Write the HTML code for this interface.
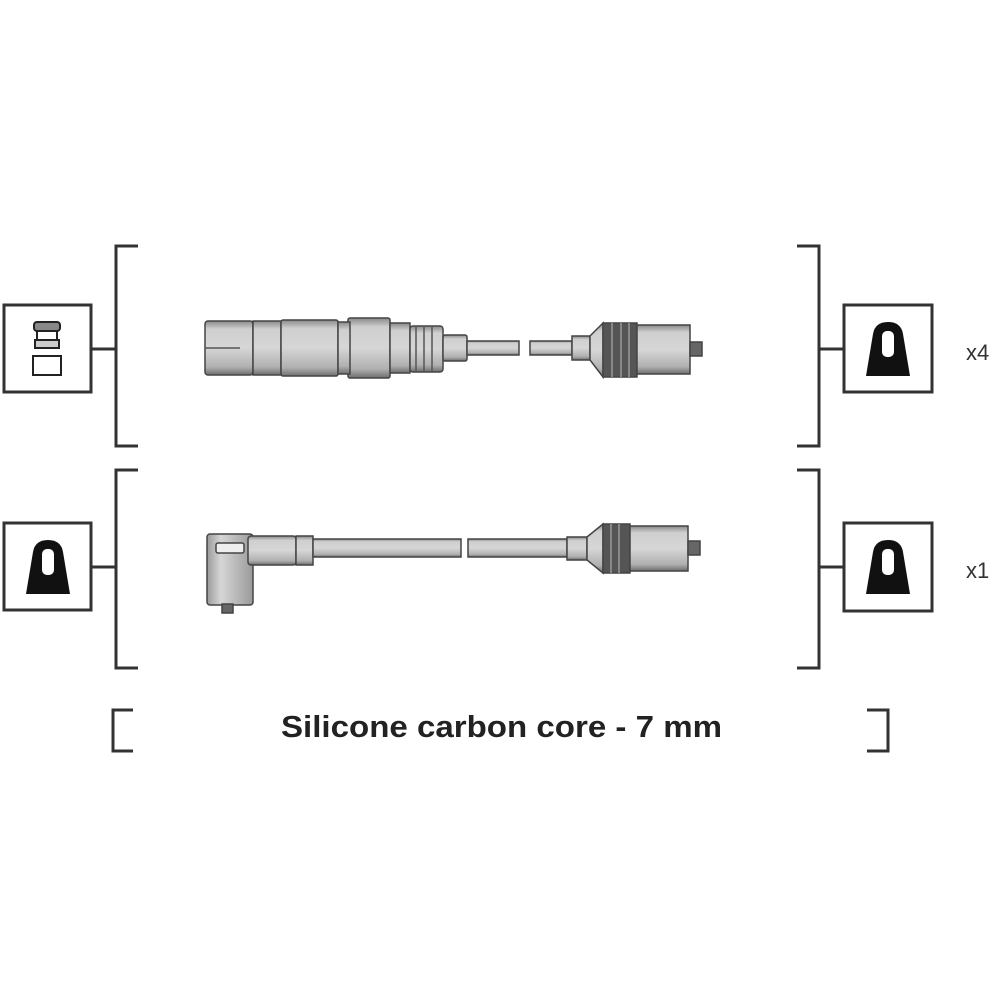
<!DOCTYPE html>
<html><head><style>html,body{margin:0;padding:0;background:#fff;overflow:hidden}svg{display:block}</style></head>
<body>
<svg width="1000" height="1000" viewBox="0 0 1000 1000" xmlns="http://www.w3.org/2000/svg">
<defs>
<linearGradient id="g" x1="0" y1="0" x2="0" y2="1">
<stop offset="0" stop-color="#8a8a8a"/><stop offset="0.15" stop-color="#cfcfcf"/><stop offset="0.5" stop-color="#d6d6d6"/><stop offset="0.85" stop-color="#b0b0b0"/><stop offset="1" stop-color="#6e6e6e"/>
</linearGradient>
<linearGradient id="gv" x1="0" y1="0" x2="1" y2="0">
<stop offset="0" stop-color="#9a9a9a"/><stop offset="0.3" stop-color="#d6d6d6"/><stop offset="1" stop-color="#9a9a9a"/>
</linearGradient>
</defs>
<g fill="none" stroke="#333" stroke-width="3">
<polyline points="138,246 116,246 116,446 138,446"/>
<polyline points="138,470 116,470 116,668 138,668"/>
<line x1="91" y1="349" x2="116" y2="349"/>
<line x1="91" y1="567" x2="116" y2="567"/>
<polyline points="797,246 819,246 819,446 797,446"/>
<polyline points="797,470 819,470 819,668 797,668"/>
<line x1="819" y1="349" x2="843" y2="349"/>
<line x1="819" y1="567" x2="843" y2="567"/>
<rect x="4" y="305" width="87" height="87"/>
<rect x="4" y="523" width="87" height="87"/>
<rect x="844" y="305" width="88" height="87"/>
<rect x="844" y="523" width="88" height="88"/>
<polyline points="133,710 113,710 113,751 133,751"/>
<polyline points="867,710 888,710 888,751 867,751"/>
</g>
<g stroke="#222" stroke-width="2" fill="#fff">
<rect x="34" y="322" width="26" height="9" rx="3" fill="#888"/>
<rect x="37" y="331" width="20" height="9"/>
<rect x="35" y="340" width="24" height="8" fill="#ccc"/>
<rect x="33" y="356" width="28" height="19"/>
</g>
<g fill="#111">
<path d="M866,376 L873,334 Q875,322 888,322 Q901,322 903,334 L910,376 Z"/>
<path d="M26,594 L33,552 Q35,540 48,540 Q61,540 63,552 L70,594 Z"/>
<path d="M866,594 L873,552 Q875,540 888,540 Q901,540 903,552 L910,594 Z"/>
</g>
<g fill="#fff">
<rect x="882" y="331" width="12" height="26" rx="5"/>
<rect x="42" y="549" width="12" height="26" rx="5"/>
<rect x="882" y="549" width="12" height="26" rx="5"/>
</g>
<g font-family="Liberation Sans, sans-serif" font-size="22" fill="#333">
<text x="966" y="360">x4</text>
<text x="966" y="578">x1</text>
</g>
<text x="281" y="737" font-family="Liberation Sans, sans-serif" font-weight="bold" font-size="31" fill="#222" textLength="441" lengthAdjust="spacingAndGlyphs">Silicone carbon core - 7 mm</text>
<g stroke="#444" stroke-width="1.5" fill="url(#g)">
<rect x="205" y="321" width="48" height="54" rx="3"/>
<rect x="253" y="321" width="28" height="54"/>
<rect x="281" y="320" width="57" height="56" rx="2"/>
<rect x="348" y="318" width="42" height="60" rx="2"/>
<rect x="338" y="322" width="12" height="52"/>
<rect x="390" y="323" width="20" height="50"/>
<rect x="410" y="326" width="33" height="46" rx="3"/>
<rect x="443" y="335" width="24" height="26" rx="2"/>
<rect x="467" y="341" width="52" height="14"/>
<rect x="530" y="341" width="42" height="14"/>
<rect x="572" y="336" width="18" height="24"/>
<path d="M590,336 L603,323 L603,377 L590,360 Z"/>
<rect x="603" y="323" width="34" height="54" fill="#555"/>
<rect x="637" y="325" width="53" height="49"/>
<rect x="690" y="342" width="12" height="14" fill="#666"/>
</g>
<g stroke="#555" stroke-width="1.5">
<line x1="416" y1="327" x2="416" y2="371"/><line x1="424" y1="327" x2="424" y2="371"/><line x1="432" y1="327" x2="432" y2="371"/>
<line x1="205" y1="348" x2="240" y2="348"/>
</g>
<g stroke="#888" stroke-width="2"><line x1="612" y1="323" x2="612" y2="377"/><line x1="621" y1="323" x2="621" y2="377"/><line x1="629" y1="323" x2="629" y2="377"/></g>
<g stroke="#444" stroke-width="1.5" fill="url(#g)">
<rect x="207" y="534" width="46" height="71" rx="3" fill="url(#gv)"/>
<rect x="222" y="604" width="11" height="9" fill="#666"/>
<rect x="248" y="536" width="48" height="29" rx="3"/>
<rect x="296" y="536" width="17" height="29"/>
<rect x="216" y="543" width="28" height="10" rx="2" fill="#eee"/>
<rect x="313" y="539" width="148" height="18"/>
<rect x="468" y="539" width="99" height="18"/>
<rect x="567" y="537" width="20" height="23"/>
<path d="M587,537 L603,524 L603,573 L587,560 Z"/>
<rect x="603" y="524" width="27" height="49" fill="#555"/>
<rect x="630" y="526" width="58" height="45"/>
<rect x="688" y="541" width="12" height="14" fill="#666"/>
</g>
<g stroke="#888" stroke-width="2"><line x1="611" y1="524" x2="611" y2="573"/><line x1="619" y1="524" x2="619" y2="573"/></g>
</svg>
</body></html>
